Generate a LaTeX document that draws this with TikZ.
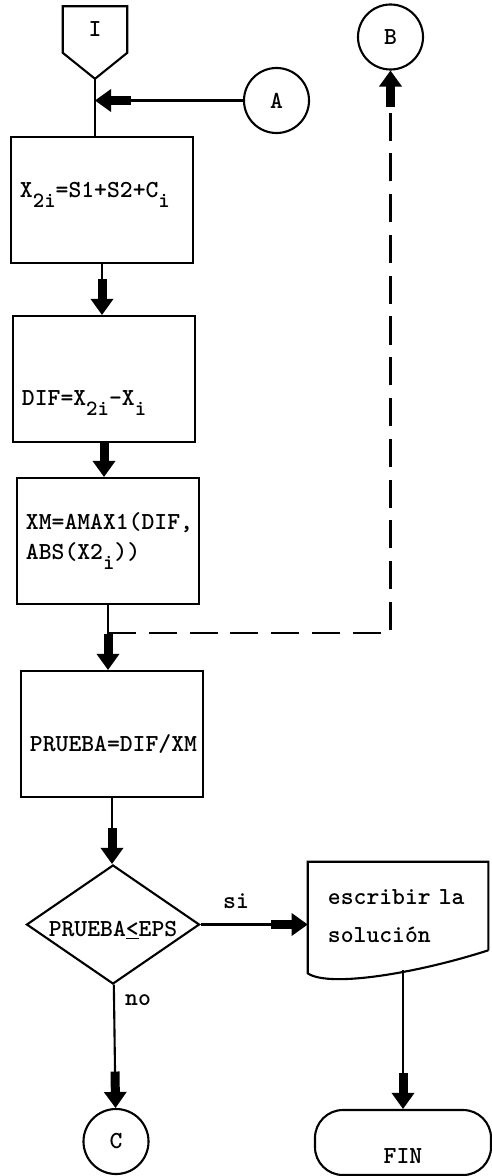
\documentclass[tikz,border=0pt]{standalone}
\usepackage{fontspec}
\usetikzlibrary{arrows.meta,shapes.geometric,calc}
\newcommand{\dn}[1]{\raisebox{-7.5pt}{\fontsize{15.5}{18}\selectfont #1}}
\tikzset{
  >=Stealth,
  proc/.style ={rectangle,draw,line width=1.5pt,inner sep=0pt,minimum width=4.55cm,minimum height=3.15cm,text width=4.1cm,align=left},
  conn/.style ={circle,draw,line width=1.5pt,inner sep=0pt,minimum size=1.625cm},
  dec/.style  ={diamond,draw,line width=1.5pt,inner sep=0pt,aspect=1.45,minimum width=4.325cm,minimum height=2.975cm,text height=0.6cm,text depth=0pt},
  docu/.style ={rectangle,inner sep=0pt,minimum width=4.5cm,minimum height=2.7cm,text width=3.5cm,align=left},
  term/.style ={rectangle,draw,line width=1.5pt,rounded corners=0.7cm,minimum width=4.4cm,minimum height=1.625cm,text height=1.025cm,text depth=0pt},
  flow/.style ={line width=1.5pt,-{Rectangle[length=15pt,width=6.4pt,sep=-0.5pt]Triangle[length=11.4pt,width=16pt]}},
  back/.style ={flow,line width=1.8pt,dash pattern=on 20pt off 9pt},
}

\begin{document}
\begin{tikzpicture}[x=0.025cm,y=-0.025cm,font=\fontsize{17.4}{21.5}\selectfont\ttfamily\bfseries]
  \useasboundingbox (0,0) rectangle (492,1176);
  % entrada y conectores
  \node[inner sep=0pt,minimum width=1.6cm,minimum height=1.15cm] (I) at (95,29.5) {I};
  \coordinate (Ip) at ($(I.south)+(0,26)$);
  \draw[line width=1.5pt] (I.north west) -- (I.north east) -- (I.south east) -- (Ip) -- (I.south west) -- cycle;
  \node[conn] (A) at (276.5,100.5) {A};
  \node[conn] (B) at (390.5,37) {B};

  % proceso
  \node[proc,text height=0.35cm,text depth=0.5cm] (b1) at (102,200) {X\dn{2i}=S1+S2+C\dn{i}};
  \node[proc,text height=1.3cm,text depth=0pt] (b2) at (104,379) {DIF=X\dn{2i}-X\dn{i}};
  \node[proc] (b3) at (108,541) {XM=AMAX1(DIF,\\ABS(X2\dn{i}))};
  \node[proc,align=center,text height=0.85cm,text depth=0pt] (b4) at (112,734) {PRUEBA=DIF/XM};
  \node[dec] (d) at (113,924.5) {PRUEBA\underline{<}EPS};
  \node[docu] (w) at (398,916) {escribir la\\[6pt]solución};
  \node[term] (fin) at (403,1142.5) {FIN};
  \node[conn] (C) at (116,1141.5) {C};
  \node[anchor=base] (si) at (236,908) {si};
  \node[anchor=base] (no) at (138,1005) {no};

  % documento
  \draw[line width=1.5pt] ($(w.south east)+(0,-20)$) -- (w.north east) -- (w.north west)
    -- ($(w.south west)+(0,3)$) .. controls +(22,15) and +(-68,22) .. ($(w.south east)+(0,-20)$);

  \draw[line width=1.5pt] (Ip) -- (Ip |- b1.north);
  \draw[flow] (A) -- (A -| Ip);
  \draw[flow] (b1.south) -- (b1.south |- b2.north);
  \draw[flow] (b2.south) -- (b2.south |- b3.north);
  \draw[flow] (b3.south) -- (b3.south |- b4.north);
  \coordinate (j) at ($(b3.south)!0.43!(b3.south |- b4.north)$);
  \draw[back] (j) -| (B);
  \draw[flow] (b4.south) -- (b4.south |- d.north);
  \draw[flow] (d.east) -- (d.east -| w.west);
  \draw[flow] (d) -- (C);
  \draw[flow] (fin.north |- w.south) -- (fin.north);
\end{tikzpicture}
\end{document}
